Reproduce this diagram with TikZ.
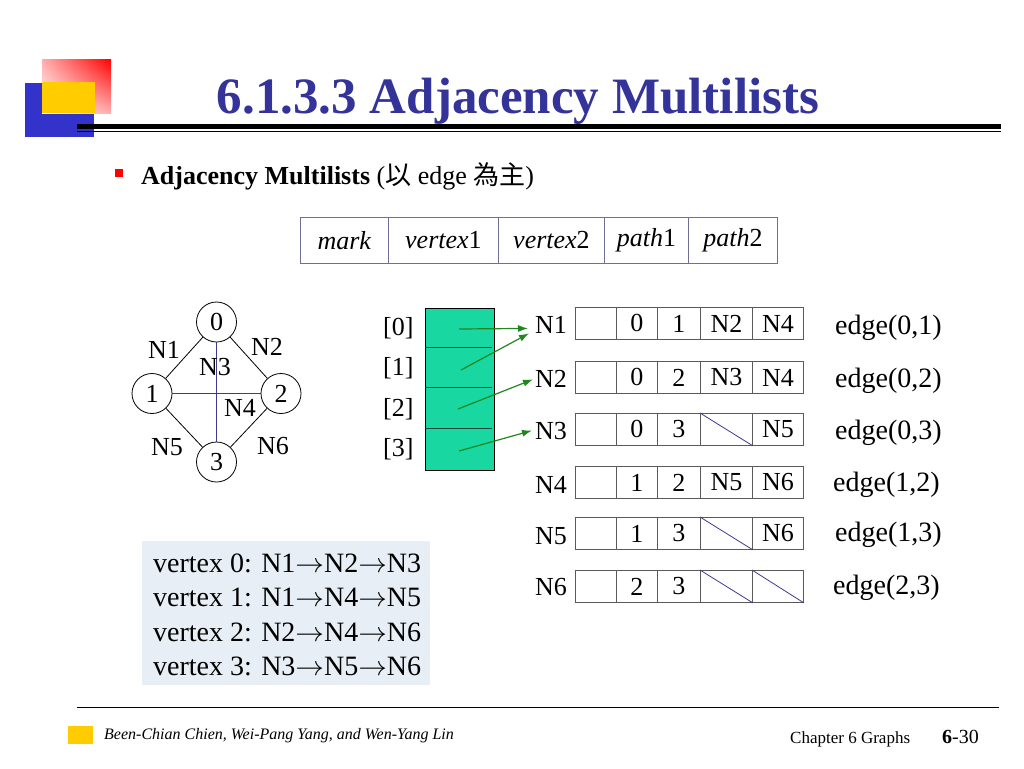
\documentclass[tikz,border=0pt]{standalone}
\usepackage{fontspec}
\setmainfont{Liberation Serif}
\newfontfamily\cjk{Noto Sans CJK TC}
\usetikzlibrary{arrows.meta,shadings}
\definecolor{titleblue}{RGB}{51,51,153}
\definecolor{navyline}{RGB}{60,60,140}
\definecolor{cellgray}{RGB}{90,90,90}
\definecolor{hdrgray}{RGB}{110,110,150}
\definecolor{mint}{RGB}{25,215,160}
\definecolor{arrgreen}{RGB}{30,135,30}
\definecolor{listbg}{RGB}{232,238,245}
\definecolor{logoblue}{RGB}{51,51,204}
\definecolor{logoyellow}{RGB}{255,204,0}
\newcommand\fs[1]{\fontsize{#1}{#1}\selectfont}
\newcommand\ra{\scalebox{1.15}[1.1]{$\rightarrow$}}
\tikzset{
  txt/.style={inner sep=0pt, font=\fs{26}},
  big/.style={inner sep=0pt, font=\fs{28}},
  cell/.style={draw=cellgray, line width=0.9pt, minimum height=32pt, inner sep=0pt, anchor=north west, font=\fs{26}},
  hcell/.style={draw=hdrgray, line width=0.9pt, minimum height=46pt, inner sep=0pt, anchor=north west, font=\fs{26}},
  vtx/.style={draw, circle, line width=0.8pt, minimum size=40pt, inner sep=0pt, font=\fs{26}},
  garrow/.style={draw=arrgreen, line width=1.2pt, -{Latex[length=10pt,width=7pt]}},
  nul/.style={draw=navyline, line width=0.8pt},
}
\newcommand\rec[6]{%
  \node[cell,minimum width=41pt] (#1m) at (575,#2) {};
  \node[cell,minimum width=41pt] (#1a) at (616,#2) {#3};
  \node[cell,minimum width=43pt] (#1b) at (657,#2) {#4};
  \node[cell,minimum width=52pt] (#1c) at (700,#2) {#5};
  \node[cell,minimum width=51pt] (#1d) at (752,#2) {#6};
}
\begin{document}
\begin{tikzpicture}[x=1pt,y=-1pt]
\useasboundingbox (0,0) rectangle (1024,768);
% logo
\fill[logoblue] (25,83) rectangle (94,137);
\shade[upper right=red, lower left=white, upper left=red!32, lower right=red!32] (42,59) rectangle (111,113);
\fill[logoyellow] (42,82) rectangle (95,113);
% title rules
\fill[black] (77,124) rectangle (1001,129);
\fill[black] (77,130.5) rectangle (1001,132);
\node[inner sep=0pt, anchor=base, font=\fs{51}\bfseries, text=titleblue] (title) at (518,113) {6.1.3.3 Adjacency Multilists};
% bullet
\fill[red] (115,169) rectangle (123,177);
\node[inner sep=0pt, anchor=base west, font=\fs{26}] (sub) at (141,184) {\textbf{Adjacency Multilists} ({\cjk 以} edge {\cjk 為主})};
% header record
\node[hcell, minimum width=88pt] (hm) at (300,217) {\textit{mark}\hspace{6pt}};
\node[hcell, minimum width=110pt] (h1) at (388,217) {\textit{vertex}1};
\node[hcell, minimum width=106pt] (h2) at (498,217) {\textit{vertex}2};
\node[hcell, minimum width=84pt] (h3) at (604,217) {\textit{path}1};
\node[hcell, minimum width=89pt] (h4) at (688,217) {\textit{path}2};
% graph
\node[vtx] (v0) at (216.5,322) {0};
\node[vtx] (v1) at (152,393.5) {1};
\node[vtx] (v2) at (281,393.5) {2};
\node[vtx] (v3) at (216.5,462) {3};
\draw[line width=0.8pt] (v0) -- (v1);
\draw[line width=0.8pt] (v0) -- (v2);
\draw[line width=0.8pt] (v1) -- (v3);
\draw[line width=0.8pt] (v2) -- (v3);
\draw[navyline, line width=0.8pt] (v0) -- (v3);
\draw[navyline, line width=0.8pt] (v1) -- (v2);
\node[txt] (gN1) at (164,350) {N1};
\node[txt] (gN2) at (267,347) {N2};
\node[txt] (gN3) at (215,367) {N3};
\node[txt] (gN4) at (240,408) {N4};
\node[txt] (gN5) at (167,447) {N5};
\node[txt] (gN6) at (273,446) {N6};
% array
\node[draw, line width=0.9pt, fill=mint, minimum width=69pt, minimum height=162pt, anchor=north west, inner sep=0pt] (arr) at (425,308) {};
\draw[line width=1pt, mint!35!black] (arr.west |- 0,347) -- (492,347);
\draw[line width=1pt, mint!35!black] (arr.west |- 0,387) -- (492,387);
\draw[line width=1pt, mint!35!black] (arr.west |- 0,428) -- (492,428);
\node[txt, anchor=base west] (i0) at (383,335) {[0]};
\node[txt, anchor=base west] (i1) at (383,375) {[1]};
\node[txt, anchor=base west] (i2) at (383,416) {[2]};
\node[txt, anchor=base west] (i3) at (383,456) {[3]};
\coordinate (a0) at (459,329);
\coordinate (a1) at (461,370);
\coordinate (a2) at (458,409);
\coordinate (a3) at (459,451);
% N labels
\node[txt, anchor=base west] (n1) at (535,333) {N1};
\node[txt, anchor=base west] (n2) at (535,387) {N2};
\node[txt, anchor=base west] (n3) at (535,439) {N3};
\node[txt, anchor=base west] (n4) at (535,493) {N4};
\node[txt, anchor=base west] (n5) at (535,544) {N5};
\node[txt, anchor=base west] (n6) at (535,595) {N6};
\draw[garrow] (a0) -- ([xshift=-7pt,yshift=-4pt]n1.west);
\draw[garrow] (a1) -- ([xshift=-6pt,yshift=-9pt]n1.west);
\draw[garrow] (a2) -- ([xshift=-2pt,yshift=-1pt]n2.west);
\draw[garrow] (a3) -- ([xshift=-3pt,yshift=0pt]n3.west);
% records
\rec{r1}{307}{0}{1}{N2}{N4}
\rec{r2}{361}{0}{2}{N3}{N4}
\rec{r3}{413}{0}{3}{}{N5}
\rec{r4}{466}{1}{2}{N5}{N6}
\rec{r5}{517}{1}{3}{}{N6}
\rec{r6}{570}{2}{3}{}{}
\draw[nul] (r3c.north west) -- (r3c.south east);
\draw[nul] (r5c.north west) -- (r5c.south east);
\draw[nul] (r6c.north west) -- (r6c.south east);
\draw[nul] (r6d.north west) -- (r6d.south east);
% edge labels
\node[big, anchor=base west] (e1) at (835,334) {edge(0,1)};
\node[big, anchor=base west] (e2) at (835,387) {edge(0,2)};
\node[big, anchor=base west] (e3) at (835,439) {edge(0,3)};
\node[big, anchor=base west] (e4) at (833,491) {edge(1,2)};
\node[big, anchor=base west] (e5) at (835,541) {edge(1,3)};
\node[big, anchor=base west] (e6) at (833,594) {edge(2,3)};
% vertex list
\fill[listbg] (142,541) rectangle (430,685);
\node[big, anchor=base west] (l0) at (153,572) {vertex 0: N1\ra N2\ra N3};
\node[big, anchor=base west] (l1) at (153,606) {vertex 1: N1\ra N4\ra N5};
\node[big, anchor=base west] (l2) at (153,641) {vertex 2: N2\ra N4\ra N6};
\node[big, anchor=base west] (l3) at (153,675) {vertex 3: N3\ra N5\ra N6};
% footer
\fill[black] (77,706.5) rectangle (999,708);
\fill[logoyellow] (68,726) rectangle (93,744);
\node[inner sep=0pt, anchor=base west, font=\fs{16}\itshape] (auth) at (104,739) {Been-Chian Chien, Wei-Pang Yang, and Wen-Yang Lin};
\node[inner sep=0pt, anchor=base west, font=\fs{17}] (chap) at (790,743) {Chapter 6 Graphs};
\node[inner sep=0pt, anchor=base west, font=\fs{20}] (pg) at (942,743) {\textbf{6}-30};
\end{tikzpicture}
\end{document}
